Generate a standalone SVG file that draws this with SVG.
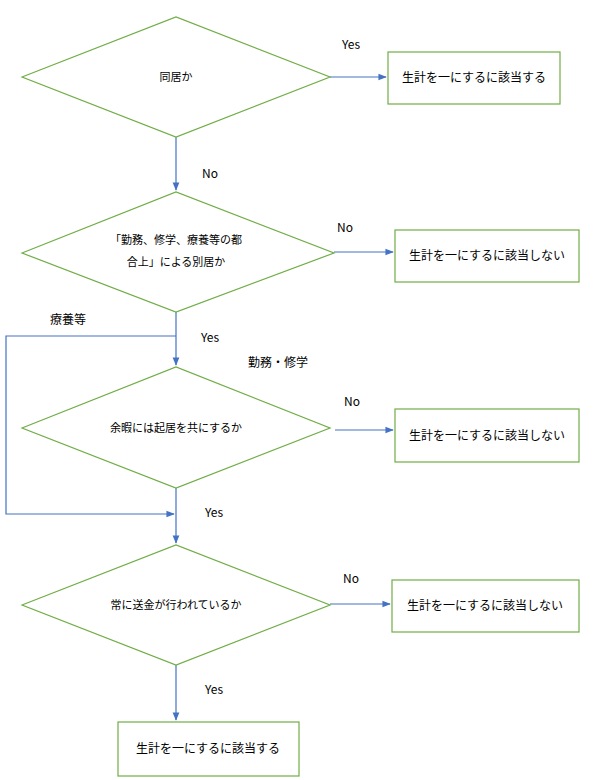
<svg xmlns="http://www.w3.org/2000/svg" width="607" height="780" viewBox="0 0 607 780">
<style>
.s{fill:#fff;stroke:#70ad47;stroke-width:1.2}
.c{stroke:#4472c4;stroke-width:1.2;fill:none}
text{font-family:"Noto Sans CJK JP","Liberation Sans",sans-serif;font-size:12px;fill:#000}
.d{font-size:11px}
</style>
<defs><marker id="a" viewBox="0 0 10 10" refX="9" refY="5" markerWidth="7" markerHeight="7" orient="auto"><path d="M0,1 L10,5 L0,9 z" fill="#4472c4"/></marker></defs>
<rect width="607" height="780" fill="#fff"/>
<g id="connectors">
<path class="c" d="M330,77 H386" marker-end="url(#a)"/>
<path class="c" d="M176,137 V190" marker-end="url(#a)"/>
<path class="c" d="M334,252 H393" marker-end="url(#a)"/>
<path class="c" d="M176,312 V365" marker-end="url(#a)"/>
<path class="c" d="M176,336 H6 V514 H174" marker-end="url(#a)"/>
<path class="c" d="M335,430 H393" marker-end="url(#a)"/>
<path class="c" d="M176,488 V543" marker-end="url(#a)"/>
<path class="c" d="M330,604 H390" marker-end="url(#a)"/>
<path class="c" d="M176,665 V720" marker-end="url(#a)"/>
<text x="342" y="49">Yes</text>
<text x="202" y="178">No</text>
<text x="337" y="232">No</text>
<text x="201" y="342">Yes</text>
<text x="50" y="324">療養等</text>
<text x="248" y="367">勤務・修学</text>
<text x="344" y="406">No</text>
<text x="205" y="517">Yes</text>
<text x="343" y="583">No</text>
<text x="205" y="694">Yes</text>
</g>
<g id="d1"><path class="s" d="M22,77 L176,17 L330,77 L176,137 Z"/><text class="d" x="176" y="81" text-anchor="middle">同居か</text></g>
<g id="b1"><rect class="s" x="388" y="52" width="172" height="52"/><text x="474" y="82" text-anchor="middle">生計を一にするに該当する</text></g>
<g id="d2"><path class="s" d="M22,253 L176,192 L334,253 L176,312 Z"/><text class="d" x="176" y="244" text-anchor="middle">「勤務、修学、療養等の都</text><text class="d" x="176" y="266" text-anchor="middle">合上」による別居か</text></g>
<g id="b2"><rect class="s" x="395" y="230" width="184" height="52"/><text x="487" y="260" text-anchor="middle">生計を一にするに該当しない</text></g>
<g id="d3"><path class="s" d="M22,428 L176,367 L330,428 L176,488 Z"/><text class="d" x="176" y="432" text-anchor="middle">余暇には起居を共にするか</text></g>
<g id="b3"><rect class="s" x="395" y="409" width="184" height="53"/><text x="487" y="440" text-anchor="middle">生計を一にするに該当しない</text></g>
<g id="d4"><path class="s" d="M22,605 L176,545 L330,605 L176,665 Z"/><text class="d" x="176" y="609" text-anchor="middle">常に送金が行われているか</text></g>
<g id="b4"><rect class="s" x="392" y="580" width="187" height="52"/><text x="485" y="610" text-anchor="middle">生計を一にするに該当しない</text></g>
<g id="b5"><rect class="s" x="118" y="722" width="181" height="54"/><text x="208" y="753" text-anchor="middle">生計を一にするに該当する</text></g>
</svg>
